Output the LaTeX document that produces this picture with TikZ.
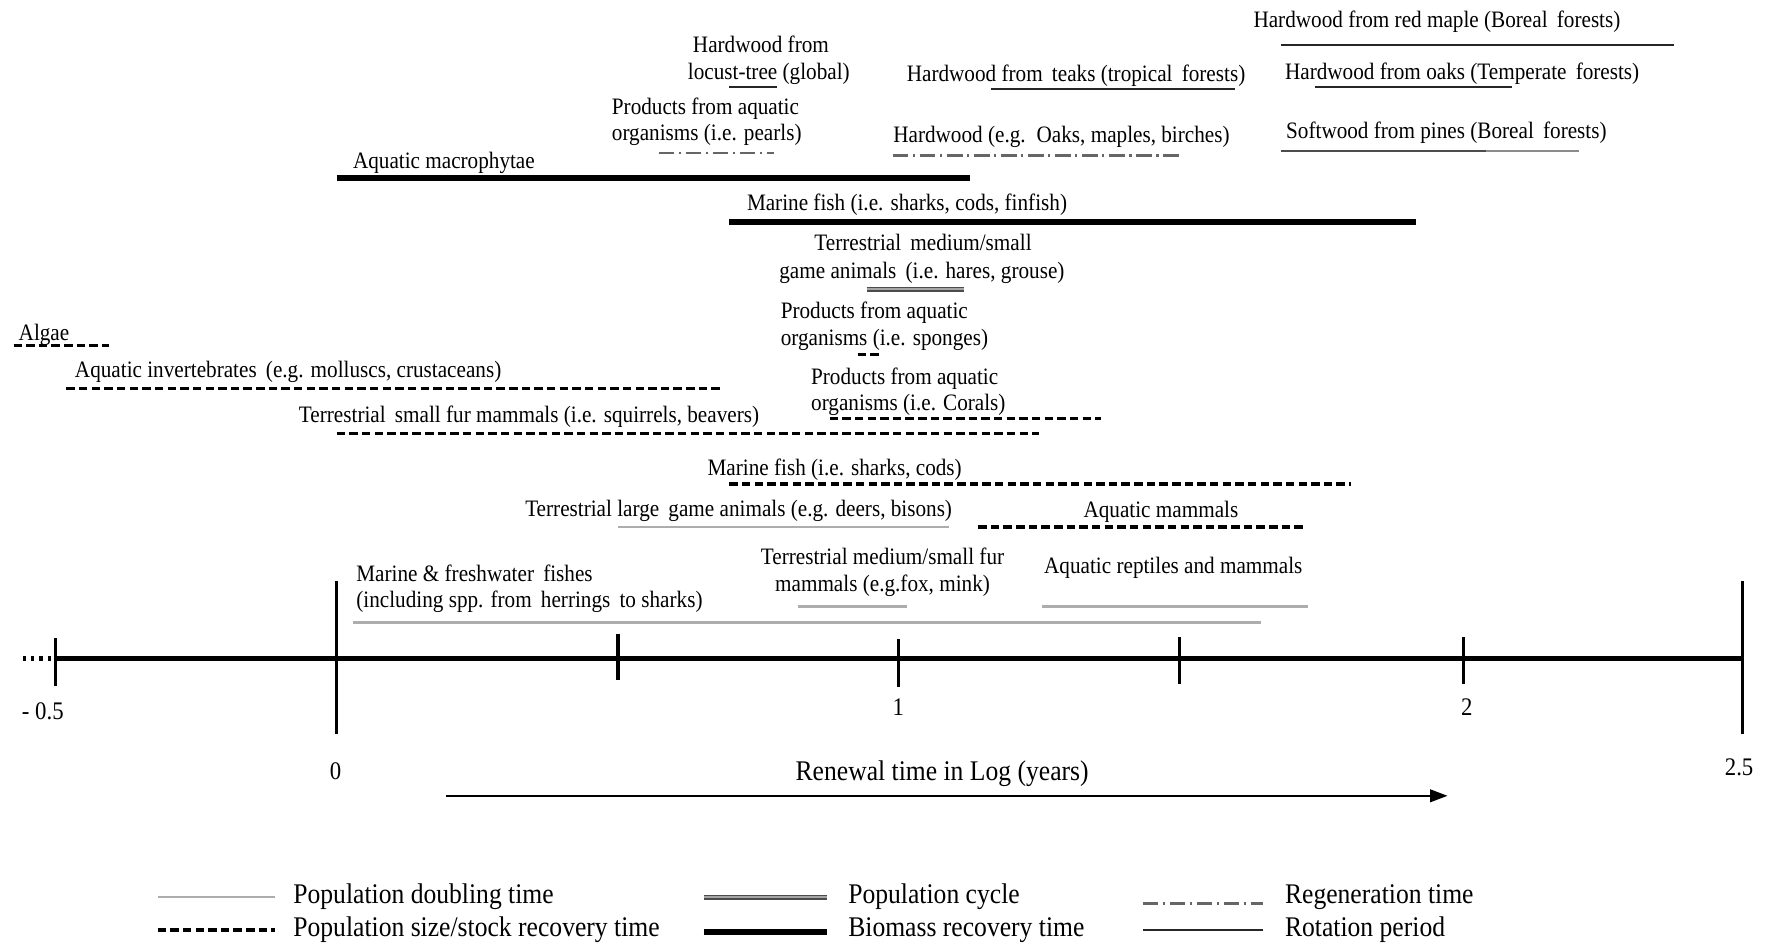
\documentclass[tikz,border=0pt]{standalone}
\usepackage{fontspec}
\setmainfont{Liberation Serif}[FakeStretch=0.9]
\usetikzlibrary{arrows.meta}

% one drawing unit = one pixel of a 1568 x 840 sheet, y grows downwards
\tikzset{
  lbl/.style={font=\fontsize{6.7}{8}\selectfont, inner sep=0pt, anchor=base west, yshift=-0.02cm},
  lblc/.style={lbl, anchor=base},
  big/.style={font=\fontsize{8.1}{9.5}\selectfont, inner sep=0pt, anchor=base west},
  bigc/.style={big, anchor=base},
  doubling/.style={draw=black!32, line width=0.7pt},
  stock/.style={draw=black, line width=1pt, dash pattern=on 2.4pt off 1.2pt},
  popcycle/.style={draw=black!70, line width=0.45pt, double=black!35, double distance=0.55pt},
  biomass/.style={draw=black, line width=1.7pt},
  regen/.style={draw=black!60, line width=0.8pt, dash pattern=on 4.5pt off 1.3pt on 0.6pt off 1.3pt},
  rotation/.style={draw=black!85, line width=0.55pt},
  axisline/.style={draw=black, line width=1.4pt},
  axtick/.style={draw=black, line width=0.9pt},
}
% a time range drawn as a horizontal bar: style, left x, right x, y
\newcommand\rangebar[4]{\draw[#1] (#2,#4) -- (#3,#4);}

\begin{document}
\begin{tikzpicture}[x=0.011257cm, y=-0.011257cm]
\useasboundingbox (0,0) rectangle (1568,840);

% ---------- forest products ----------
\node[lbl] (redmaple) at (1113,23) {Hardwood from red maple (Boreal\, forests)};
\rangebar{rotation}{1138}{1487}{40}
\node[lbl] (oaks) at (1141,69) {Hardwood from oaks (Temperate\, forests)};
\rangebar{rotation}{1168}{1343}{77}
\node[lbl] (pines) at (1142,121) {Softwood from pines (Boreal\, forests)};
\draw[draw=black!45, line width=0.7pt] (1138,134) -- (1403,134);
\draw[draw=black!70, line width=0.6pt] (1138,134) -- (1320,134);
\node[lbl] (teaks) at (805,71) {Hardwood from\, teaks (tropical\, forests)};
\rangebar{rotation}{880}{1097}{79}
\node[lbl] (hardwood) at (793,125) {Hardwood (e.g.\, Oaks, maples, birches)};
\rangebar{regen}{793}{1050}{138}
\node[lblc] (locustA) at (676,45) {Hardwood from};
\node[lblc] (locustB) at (683,69) {locust-tree (global)};
\rangebar{rotation}{648}{690}{77}
\node[lbl] (pearlsA) at (543,100) {Products from aquatic};
\node[lbl] (pearlsB) at (543,123) {organisms (i.e. pearls)};
\rangebar{regen}{585}{688}{136}

% ---------- biomass recovery ----------
\node[lbl] (macro) at (313,148) {Aquatic macrophytae};
\rangebar{biomass}{299}{862}{158}
\node[lbl] (fishA) at (663,185) {Marine fish (i.e. sharks, cods, finfish)};
\rangebar{biomass}{648}{1258}{197}

% ---------- population cycle ----------
\node[lblc] (gameA) at (820,221) {Terrestrial\, medium/small};
\node[lblc] (gameB) at (819,246) {game animals\, (i.e. hares, grouse)};
\rangebar{popcycle}{770}{856}{257}

% ---------- stock recovery ----------
\node[lbl] (spongeA) at (693,281) {Products from aquatic};
\node[lbl] (spongeB) at (693,305) {organisms (i.e. sponges)};
\rangebar{stock}{762}{783}{315}
\node[lbl] (coralA) at (720,340) {Products from aquatic};
\node[lbl] (coralB) at (720,363) {organisms (i.e. Corals)};
\rangebar{stock}{737}{978}{372}
\node[lbl] (algae) at (16,301) {Algae};
\rangebar{stock}{12}{97}{307}
\node[lbl] (invert) at (66,334) {Aquatic invertebrates\, (e.g. molluscs, crustaceans)};
\rangebar{stock}{59}{643}{345}
\node[lbl] (smallfur) at (265,374) {Terrestrial\, small fur mammals (i.e. squirrels, beavers)};
\rangebar{stock}{299}{923}{385}
\node[lbl] (fishB) at (628,421) {Marine fish (i.e. sharks, cods)};
\rangebar{stock}{648}{1200}{430}
\node[lbl] (largegame) at (466,457) {Terrestrial large\, game animals (e.g. deers, bisons)};
\rangebar{doubling}{549}{843}{468}
\node[lbl] (aqmam) at (962,458) {Aquatic mammals};
\rangebar{stock}{869}{1160}{468}

% ---------- population doubling ----------
\node[lbl] (fwA) at (316,515) {Marine \& freshwater\, fishes};
\node[lbl] (fwB) at (316,538) {(including spp. from\, herrings\, to sharks)};
\rangebar{doubling}{314}{1120}{553}
\node[lblc] (medfurA) at (784,500) {Terrestrial medium/small fur};
\node[lblc] (medfurB) at (784,524) {mammals (e.g.fox, mink)};
\rangebar{doubling}{709}{806}{539}
\node[lbl] (reptiles) at (927,508) {Aquatic reptiles and mammals};
\rangebar{doubling}{926}{1162}{539}

% ---------- axis ----------
\coordinate (axL) at (49,585);
\coordinate (axR) at (1548,585);
\draw[axisline] (axL) -- (axR);
\draw[draw=black, line width=1.5pt, dash pattern=on 0.9pt off 1.5pt] (20,585) -- (107,585);
\draw[axtick] (49,567) -- (49,609);
\draw[axtick] (299,516) -- (299,652);
\draw[axtick] (549,563) -- (549,604);
\draw[axtick] (798,568) -- (798,610);
\draw[axtick] (1048,566) -- (1048,608);
\draw[axtick] (1300,566) -- (1300,608);
\draw[axtick] (1548,516) -- (1548,652);
\node[lblc, font=\fontsize{7.2}{8}\selectfont] (tm05) at (38,637) {- 0.5};
\node[lblc, font=\fontsize{7.2}{8}\selectfont] (t1) at (798,634) {1};
\node[lblc, font=\fontsize{7.2}{8}\selectfont] (t2) at (1303,634) {2};
\node[lblc, font=\fontsize{7.2}{8}\selectfont] (t0) at (298,691) {0};
\node[lblc, font=\fontsize{7.2}{8}\selectfont] (t25) at (1545,687) {2.5};
\node[bigc] (axtitle) at (837,693) {Renewal time in Log (years)};
\coordinate (arrA) at (396,707);
\coordinate (arrB) at (1286,707);
\draw[line width=0.6pt, -{Triangle[length=5pt,width=3.6pt]}] (arrA) -- (arrB);

% ---------- key ----------
\rangebar{doubling}{140}{244}{797}
\node[big] (kdoub) at (260,803) {Population doubling time};
\rangebar{stock}{140}{244}{826}
\node[big] (kstock) at (260,832) {Population size/stock recovery time};
\rangebar{popcycle}{625}{735}{797}
\node[big] (kcycle) at (753,803) {Population cycle};
\rangebar{biomass}{625}{735}{828}
\node[big] (kbio) at (753,832) {Biomass recovery time};
\rangebar{regen}{1015}{1122}{803}
\node[big] (kregen) at (1141,803) {Regeneration time};
\rangebar{rotation}{1015}{1122}{826}
\node[big] (krot) at (1141,832) {Rotation period};
\end{tikzpicture}
\end{document}
